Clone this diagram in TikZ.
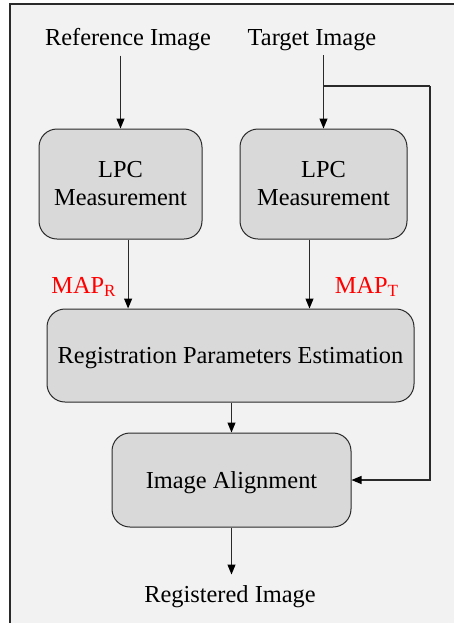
\documentclass[tikz,border=0pt]{standalone}
\usepackage{fontspec}
\setmainfont{Liberation Serif}
\usepackage{xcolor}
\usetikzlibrary{arrows.meta}

\definecolor{bggray}{HTML}{F2F2F2}
\definecolor{boxgray}{HTML}{D9D9D9}
\definecolor{edgegray}{HTML}{2A2A2A}

\begin{document}
\begin{tikzpicture}[x=0.5pt, y=-0.5pt,
            font=\fontsize{12.2pt}{14pt}\selectfont,
            box/.style = {shape=rectangle, rounded corners=9pt,
                          draw=edgegray, line width=0.5pt, fill=boxgray,
                          align=center, inner sep=0pt},
            lbl/.style = {inner sep=2pt},
            maplbl/.style = {text=red, inner sep=0pt},
            line/.style = {draw=edgegray, line width=0.55pt},
            arr/.style = {line, -{Triangle[length=5pt, width=4pt, color=black]}}]
    \useasboundingbox (0,0) rectangle (454,623);
    \fill[bggray] (10,4) rectangle (454,623);
    \draw[edgegray, line width=0.6pt] (10,623) -- (10,4) -- (454,4);

    % inputs
    \node[lbl] (refimg) at (128,40) {Reference Image};
    \node[lbl] (tgtimg) at (312,40) {Target Image};

    % boxes
    \node[box, minimum width=81.5pt, minimum height=55pt] (lpcR) at (120.5,184) {LPC\\Measurement};
    \node[box, minimum width=83.5pt, minimum height=55pt] (lpcT) at (323.5,184) {LPC\\Measurement};
    \node[box, text depth=0pt, minimum width=183.5pt, minimum height=46.5pt] (rpe) at (230.5,355.5) {Registration Parameters Estimation};
    \node[box, text depth=0pt, minimum width=119.5pt, minimum height=47pt] (ia) at (231.5,480) {Image Alignment};

    \node[lbl] (regimg) at (230,597) {Registered Image};

    \node[maplbl] (mapR) at (84,287) {MAP\textsubscript{R}};
    \node[maplbl] (mapT) at (367,287) {MAP\textsubscript{T}};

    % connectors
    \draw[arr] (refimg.south -| lpcR.north) -- (lpcR.north);
    \draw[arr] (tgtimg.south -| lpcT.north) -- (lpcT.north);
    \draw[arr] ([xshift=3.8pt]lpcR.south) -- ([xshift=3.8pt]lpcR.south |- rpe.north);
    \draw[arr] ([xshift=-7pt]lpcT.south) -- ([xshift=-7pt]lpcT.south |- rpe.north);
    \draw[arr] (rpe.south -| ia.north) -- (ia.north);
    \draw[arr, shorten >=3.5pt] (ia.south) -- (ia.south |- regimg.north);

    % feedback of the target image
    \coordinate (tap) at (323.5,86);
    \coordinate (bend) at (430,86);
    \draw[line] (tap) -- (bend);
    \draw[arr] (bend) |- (ia.east);
\end{tikzpicture}
\end{document}
